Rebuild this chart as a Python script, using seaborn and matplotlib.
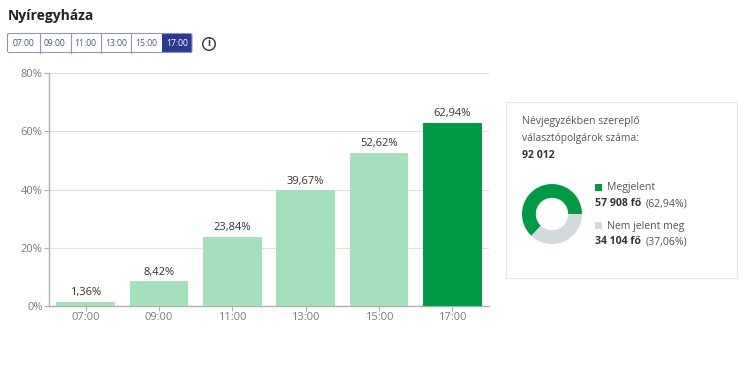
import matplotlib
matplotlib.use("Agg")
import matplotlib.pyplot as plt
import seaborn as sns
from matplotlib.patches import Circle, FancyBboxPatch, Rectangle

hours = ["07:00", "09:00", "11:00", "13:00", "15:00", "17:00"]
turnout = [1.36, 8.42, 23.84, 39.67, 52.62, 62.94]
turnout_labels = ["1,36%", "8,42%", "23,84%", "39,67%", "52,62%", "62,94%"]
y_ticks = [0, 20, 40, 60, 80]
donut_values = [62.94, 37.06]

GREEN = "#009a44"
LIGHT = "#a5e0bc"
GREY = "#d3dadd"
NAVY = "#2b3990"
W, H = 750, 367

sns.set_theme(style="white")
plt.rcParams['font.family'] = ['Open Sans', 'DejaVu Sans']

fig = plt.figure(figsize=(7.5, 3.67), dpi=100)


def px_axes(left, top, right, bottom):
    return fig.add_axes([left / W, 1 - bottom / H, (right - left) / W, (bottom - top) / H])


# main bars
ax = px_axes(49, 73, 489, 306)
palette = [LIGHT] * 5 + [GREEN]
sns.barplot(x=hours, y=turnout, hue=hours, palette=palette, legend=False,
            width=0.8, saturation=1, linewidth=0, ax=ax, zorder=3)
ax.set_xlim(-0.5, 5.5)
ax.set_ylim(0, 80)
ax.set_yticks(y_ticks)
ax.set_yticklabels([f"{v}%" for v in y_ticks])
ax.yaxis.grid(True, color="#e0e0e0", linewidth=0.8)
ax.set_axisbelow(True)
for s in ["top", "right"]:
    ax.spines[s].set_visible(False)
for s in ["left", "bottom"]:
    ax.spines[s].set_color("#b0b0b0")
    ax.spines[s].set_linewidth(1)
ax.tick_params(axis="both", length=3.5, width=0.8, color="#b0b0b0", labelcolor="#7a7a7a",
               labelsize=8, pad=1, bottom=True, left=True)
for i, lab in enumerate(turnout_labels):
    ax.text(i, turnout[i] + 1.3, lab, ha="center", va="bottom", fontsize=8, color="#333333")

# page furniture drawn in pixel coordinates
ui = fig.add_axes([0, 0, 1, 1], zorder=-1)
ui.set_xlim(0, W)
ui.set_ylim(H, 0)
ui.axis("off")
top = fig.add_axes([0, 0, 1, 1], zorder=5)
top.set_xlim(0, W)
top.set_ylim(H, 0)
top.axis("off")
top.patch.set_alpha(0)

top.text(8, 16, "Nyíregyháza", fontsize=10, fontweight="bold", color="#222222", va="center")

# time buttons
edges = [7.5, 39.5, 70.5, 100.5, 131, 161.5, 192]
top.add_patch(Rectangle((edges[5], 33.5), edges[6] - edges[5], 19, fc=NAVY, ec="none"))
top.add_patch(FancyBboxPatch((edges[0], 33.5), edges[6] - edges[0], 19,
                             boxstyle="round,pad=0,rounding_size=1.5", fc="none", ec="#8f97b5", lw=0.8))
for e in edges[1:5]:
    top.plot([e, e], [33.5, 52.5], color="#8f97b5", lw=0.8)
for i, h in enumerate(hours):
    top.text((edges[i] + edges[i + 1]) / 2, 43, h, ha="center", va="center", fontsize=6.2,
             color="white" if i == 5 else "#4a5578")

# info icon
top.add_patch(Circle((209, 44), 6.3, fc="none", ec="#333333", lw=1))
top.text(209, 44, "i", ha="center", va="center", fontsize=7, fontweight="bold", color="#333333")

# card
ui.add_patch(Rectangle((505.5, 101.5), 231, 176, fc="white", ec="#e8e8e8", lw=0.8))
card_col = "#555555"
top.text(522, 121.5, "Névjegyzékben szereplő", fontsize=7.6, color=card_col, va="center")
top.text(522, 138.5, "választópolgárok száma:", fontsize=7.4, color=card_col, va="center")
top.text(522, 155, "92 012", fontsize=7.6, fontweight="bold", color="#333333", va="center")

top.add_patch(Rectangle((595, 184), 7, 7, fc=GREEN, ec="none"))
top.text(607, 187.5, "Megjelent", fontsize=7.6, color=card_col, va="center")
top.text(595, 204, "57 908 fő", fontsize=7.6, fontweight="bold", color="#333333", va="center")
top.text(646, 204, "(62,94%)", fontsize=7.6, color=card_col, va="center")
top.add_patch(Rectangle((595, 222), 7, 7, fc=GREY, ec="none"))
top.text(607, 226, "Nem jelent meg", fontsize=7.6, color=card_col, va="center")
top.text(595, 242, "34 104 fő", fontsize=7.6, fontweight="bold", color="#333333", va="center")
top.text(646, 242, "(37,06%)", fontsize=7.6, color=card_col, va="center")

# donut
dax = px_axes(522, 184, 582, 244)
dax.pie(donut_values, colors=[GREEN, GREY], startangle=0, counterclock=True, radius=1,
        wedgeprops={"width": 0.46, "linewidth": 0})
dax.set_xlim(-1, 1)
dax.set_ylim(-1, 1)

fig.savefig("out.png", dpi=100)
